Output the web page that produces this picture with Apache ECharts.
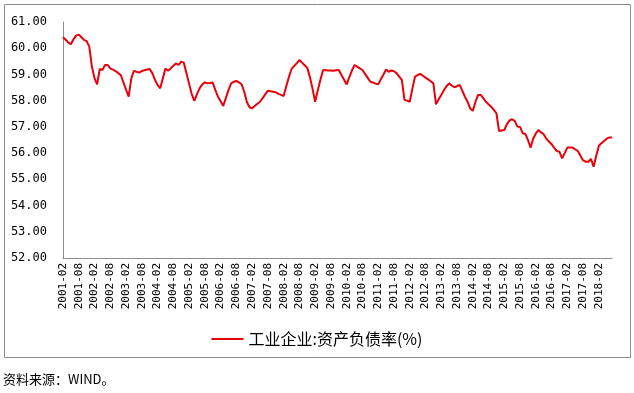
<!DOCTYPE html>
<html>
<head>
<meta charset="utf-8">
<script src="https://cdn.jsdelivr.net/npm/echarts@6/dist/echarts.min.js"></script>
<style>
html,body{margin:0;padding:0;background:#fff;}
#c{width:634px;height:393px;}
</style>
</head>
<body>
<div id="c"></div>
<script>
// First month of the series (series runs 2001-02 .. 2018-07)
const startYear = 2001;
const startMonth = 2;
const seriesName = '工业企业:资产负债率(%)';
const sourceText = '资料来源：WIND。';
const yTicks = [52, 53, 54, 55, 56, 57, 58, 59, 60, 61];

// Monthly values, 2001-02 .. 2018-07
const values = [
  // 2001-02 .. 2001-12
  60.42, 60.32, 60.22, 60.15, 60.34, 60.48, 60.52, 60.42, 60.32, 60.27, 60.06,
  // 2002
  59.30, 58.85, 58.62, 59.21, 59.17, 59.36, 59.36, 59.23, 59.18, 59.13, 59.05, 58.98,
  // 2003
  58.70, 58.42, 58.15, 58.85, 59.14, 59.10, 59.07, 59.13, 59.16, 59.19, 59.21, 59.05,
  // 2004
  58.80, 58.60, 58.47, 58.85, 59.23, 59.14, 59.23, 59.33, 59.42, 59.36, 59.49, 59.45,
  // 2005
  59.05, 58.65, 58.25, 57.99, 58.25, 58.47, 58.62, 58.70, 58.66, 58.67, 58.69, 58.40,
  // 2006
  58.15, 57.98, 57.80, 58.10, 58.40, 58.66, 58.72, 58.75, 58.70, 58.62, 58.34, 57.95,
  // 2007
  57.75, 57.71, 57.80, 57.88, 57.96, 58.10, 58.24, 58.38, 58.36, 58.34, 58.32, 58.26,
  // 2008
  58.22, 58.18, 58.55, 58.90, 59.21, 59.32, 59.43, 59.55, 59.45, 59.35, 59.25, 58.90,
  // 2009
  58.45, 57.96, 58.40, 58.80, 59.17, 59.16, 59.15, 59.15, 59.14, 59.16, 59.17, 58.98,
  // 2010
  58.80, 58.62, 58.90, 59.15, 59.36, 59.30, 59.23, 59.17, 59.02, 58.87, 58.72, 58.69,
  // 2011
  58.65, 58.62, 58.82, 59.00, 59.19, 59.10, 59.15, 59.12, 59.05, 58.92, 58.79, 58.03,
  // 2012
  58.00, 57.96, 58.45, 58.91, 58.98, 59.02, 58.95, 58.88, 58.81, 58.74, 58.66, 57.86,
  // 2013
  58.05, 58.22, 58.40, 58.55, 58.66, 58.58, 58.51, 58.55, 58.60, 58.38, 58.15, 57.96,
  // 2014
  57.71, 57.61, 57.95, 58.22, 58.22, 58.10, 57.96, 57.86, 57.77, 57.65, 57.52, 56.84,
  // 2015
  56.86, 56.88, 57.10, 57.25, 57.29, 57.22, 57.01, 57.00, 56.76, 56.73, 56.50, 56.21,
  // 2016
  56.55, 56.75, 56.88, 56.79, 56.72, 56.55, 56.44, 56.34, 56.20, 56.08, 56.05, 55.80,
  // 2017
  56.00, 56.21, 56.21, 56.21, 56.14, 56.08, 55.90, 55.72, 55.67, 55.67, 55.78, 55.48,
  // 2018-01 .. 2018-07
  55.90, 56.28, 56.38, 56.46, 56.55, 56.60, 56.60
];

// Month labels for each value
const categories = values.map(function (_, i) {
  const m = startMonth - 1 + i;
  const y = startYear + Math.floor(m / 12);
  const mm = (m % 12) + 1;
  return y + '-' + (mm < 10 ? '0' + mm : '' + mm);
});

const chart = echarts.init(document.getElementById('c'), null, {renderer: 'canvas'});
chart.setOption({
  animation: false,
  backgroundColor: '#ffffff',
  grid: {left: 63, right: 22, top: 22, bottom: 135, containLabel: false},
  legend: {
    data: [seriesName],
    left: 'center',
    top: 326,
    itemWidth: 32,
    itemHeight: 2,
    itemGap: 4,
    icon: 'rect',
    textStyle: {fontFamily: '"Noto Sans CJK SC", sans-serif', fontSize: 16, color: '#000'}
  },
  graphic: [
    {type: 'rect', shape: {x: 4.5, y: 4.5, width: 626, height: 353},
     style: {fill: 'none', stroke: '#8c8c8c', lineWidth: 1}, z: -1, silent: true},
    {type: 'text', left: 3, top: 373,
     style: {text: sourceText, fill: '#000', fontSize: 13, fontFamily: '"Noto Sans CJK SC", sans-serif'}}
  ],
  xAxis: {
    type: 'category',
    data: categories,
    boundaryGap: false,
    axisLine: {lineStyle: {color: '#8c8c8c', width: 1}},
    axisTick: {show: false},
    axisLabel: {
      interval: 5,
      rotate: 90,
      color: '#000',
      fontSize: 11,
      fontFamily: '"DejaVu Sans Mono", monospace',
      margin: 5
    },
    splitLine: {show: false}
  },
  yAxis: {
    type: 'value',
    min: yTicks[0],
    max: yTicks[yTicks.length - 1],
    interval: 1,
    axisLine: {show: true, lineStyle: {color: '#8c8c8c', width: 1}},
    axisTick: {show: false},
    splitLine: {show: false},
    axisLabel: {
      color: '#000',
      fontSize: 12,
      fontFamily: '"DejaVu Sans Mono", monospace',
      margin: 16,
      formatter: function (v) { return v.toFixed(2); }
    }
  },
  series: [{
    name: seriesName,
    type: 'line',
    data: values,
    symbol: 'none',
    lineStyle: {color: '#e8000b', width: 2},
    itemStyle: {color: '#e8000b'}
  }]
});
</script>
</body>
</html>
